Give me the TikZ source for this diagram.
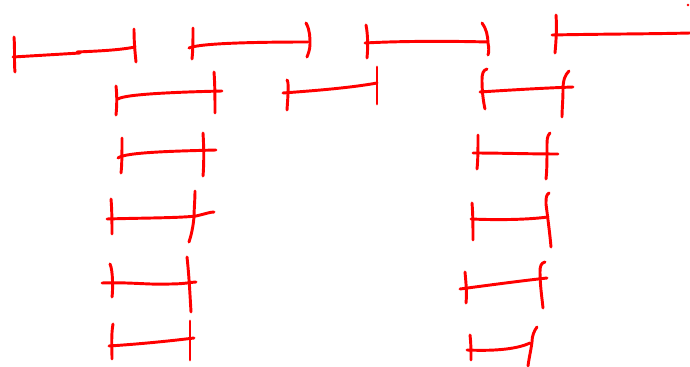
\documentclass[tikz,border=0pt]{standalone}
\begin{document}
\begin{tikzpicture}[x=0.75pt,y=-0.75pt,
  ink/.style={draw={rgb,255:red,255;green,0;blue,0}, line width=2.2pt, line cap=round, line join=round}]
\useasboundingbox (0,0) rectangle (690,367);
% Row 1
% A
\draw[ink] (14,37) .. controls (15,50) and (14,62) .. (15,72);
\draw[ink] (13,57) -- (80,53);
\draw[ink] (77,52) .. controls (100,51) and (120,50) .. (135,47);
\draw[ink] (134,29) .. controls (134,42) and (135,52) .. (136,62);
% B
\draw[ink] (193,28) .. controls (193,40) and (193,50) .. (192,59);
\draw[ink] (189,48) .. controls (200,43) and (260,42) .. (308,42);
\draw[ink] (306,23) .. controls (310,30) and (310,38) .. (310,44) .. controls (310,50) and (308,54) .. (307,57);
% C
\draw[ink] (366,25) .. controls (368,35) and (368,48) .. (367,58);
\draw[ink] (365,43) .. controls (400,41) and (450,41) .. (488,42);
\draw[ink] (482,23) .. controls (486,28) and (488,36) .. (488,43) .. controls (489,48) and (489,52) .. (488,55);
% D
\draw[ink] (556,15) .. controls (557,28) and (556,42) .. (555,53);
\draw[ink] (552,35) .. controls (600,34) and (650,34) .. (690,33);
\fill[red] (688,5) circle (1pt);
% Row 2
% E
\draw[ink] (116,86) .. controls (117,95) and (117,105) .. (116,115);
\draw[ink] (118,99) .. controls (125,94) and (180,92) .. (222,91);
\draw[ink] (214,72) .. controls (215,85) and (215,100) .. (215,113);
% F
\draw[ink] (287,80) .. controls (289,82) and (288,95) .. (287,110);
\draw[ink] (283,93) .. controls (310,91) and (350,88) .. (377,83);
\draw[ink] (377,67) .. controls (377,80) and (377,92) .. (377,104);
% G
\draw[ink] (487,69) .. controls (483,70) and (482,74) .. (482,80) .. controls (482,90) and (483,100) .. (485,109);
\draw[ink] (480,92) .. controls (510,90) and (545,88) .. (573,87);
\draw[ink] (569,71) .. controls (565,75) and (563,80) .. (563,90) .. controls (563,100) and (562,110) .. (562,117);
% Left column
% H
\draw[ink] (122,138) .. controls (122,150) and (122,165) .. (121,173);
\draw[ink] (118,158) .. controls (125,152) and (180,151) .. (216,150);
\draw[ink] (203,133) .. controls (204,148) and (204,165) .. (203,176);
% I
\draw[ink] (111,199) .. controls (112,210) and (112,225) .. (112,234);
\draw[ink] (107,219) .. controls (140,218) and (180,218) .. (196,216) .. controls (205,214) and (210,212) .. (214,212);
\draw[ink] (195,191) .. controls (195,200) and (194,210) .. (194,217) .. controls (193,228) and (191,236) .. (189,242);
% J
\draw[ink] (110,264) .. controls (113,270) and (113,290) .. (112,297);
\draw[ink] (102,283) .. controls (130,282) and (150,285) .. (170,284) .. controls (185,284) and (192,282) .. (196,282);
\draw[ink] (187,257) .. controls (189,275) and (190,295) .. (191,312);
% K
\draw[ink] (113,324) .. controls (111,335) and (112,348) .. (112,359);
\draw[ink] (109,346) .. controls (140,344) and (170,341) .. (194,338);
\draw[ink] (190,321) .. controls (190,335) and (190,348) .. (190,360);
% Right column
% L
\draw[ink] (478,135) .. controls (478,148) and (478,160) .. (477,169);
\draw[ink] (473,153) .. controls (500,153) and (530,154) .. (558,154);
\draw[ink] (550,133) .. controls (547,136) and (547,140) .. (547,146) .. controls (547,160) and (547,170) .. (546,179);
% M
\draw[ink] (472,203) .. controls (473,215) and (473,228) .. (473,240);
\draw[ink] (471,219) .. controls (495,220) and (525,220) .. (548,217);
\draw[ink] (549,193) .. controls (546,195) and (546,198) .. (546,204) .. controls (548,220) and (550,235) .. (551,247);
% N
\draw[ink] (465,272) .. controls (466,283) and (467,293) .. (466,303);
\draw[ink] (460,289) .. controls (490,285) and (520,281) .. (547,278);
\draw[ink] (545,262) .. controls (541,263) and (540,266) .. (540,272) .. controls (540,285) and (542,298) .. (543,308);
% O
\draw[ink] (470,335) .. controls (471,343) and (471,352) .. (471,360);
\draw[ink] (467,350) .. controls (490,351) and (515,350) .. (530,343);
\draw[ink] (537,327) .. controls (534,331) and (532,336) .. (532,342) .. controls (531,350) and (529,358) .. (528,366);
\end{tikzpicture}
\end{document}
